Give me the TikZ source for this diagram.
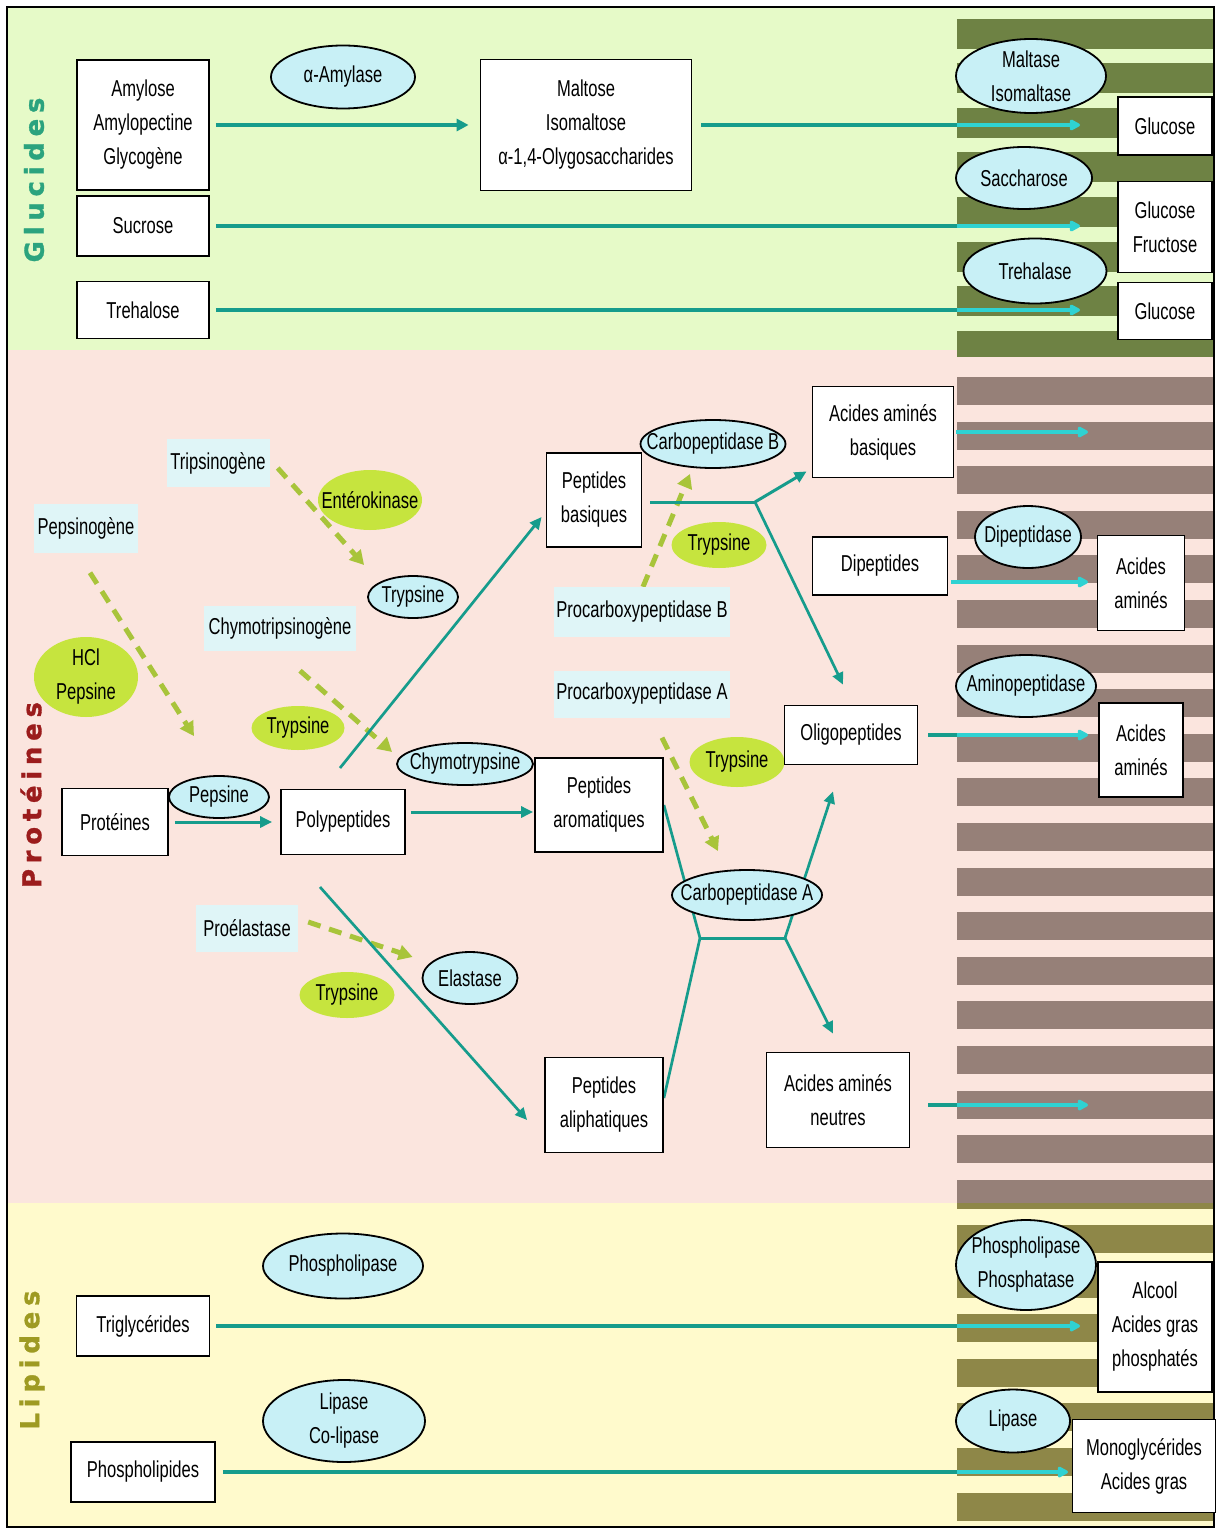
\documentclass[tikz,border=0pt]{standalone}
\usepackage{fontspec}
\setmainfont{Liberation Sans}[FakeStretch=0.72]
\newfontfamily\bandfont{DejaVu Sans}[LetterSpace=22,FakeBold=1.2]
\usetikzlibrary{arrows.meta,shapes.geometric,calc}
\definecolor{gluBg}{HTML}{E6FAC8}
\definecolor{proBg}{HTML}{FBE5DE}
\definecolor{lipBg}{HTML}{FFFACC}
\definecolor{gluStripe}{HTML}{6E8244}
\definecolor{proStripe}{HTML}{968078}
\definecolor{lipStripe}{HTML}{8E8748}
\definecolor{teal1}{HTML}{169C8C}
\definecolor{cyan1}{HTML}{2FD2D2}
\definecolor{enzBlue}{HTML}{C8F0F6}
\definecolor{enzGreen}{HTML}{C6E43E}
\definecolor{preBlue}{HTML}{DFF5F7}
\definecolor{dashGreen}{HTML}{A8C43A}
\definecolor{gluText}{HTML}{2BA37E}
\definecolor{proText}{HTML}{9B1C1C}
\definecolor{lipText}{HTML}{9E9A22}
\pgfdeclarelayer{back}\pgfdeclarelayer{mid}\pgfsetlayers{back,mid,main}
\newcommand\enz[6]{\node[#1,minimum width=#4,minimum height=#5] (#2) at (#3) {};
  \node[txt] (#2-t) at (#2.center) {#6};}
\begin{document}
\begin{tikzpicture}[x=1pt,y=-1pt,font=\fontsize{23}{34}\selectfont,
  txt/.style={inner sep=0pt,align=center},
  box/.style={draw=black,line width=1.8pt,fill=white,inner sep=2pt,align=center},
  pre/.style={fill=preBlue,inner sep=2pt,align=center},
  enzb/.style={ellipse,draw=black,line width=1.8pt,fill=enzBlue},
  enzg/.style={ellipse,fill=enzGreen},
  gline/.style={draw=teal1,line width=3.2pt},
  cline/.style={draw=cyan1,line width=4pt,-{Triangle[length=12pt,width=12pt,round]}},
  flow/.style={draw=teal1,line width=2.7pt},
  flowA/.style={flow,-{Triangle[length=12pt,width=11pt]}},
  flowG/.style={gline,-{Triangle[length=12pt,width=12pt]}},
  act/.style={draw=dashGreen,line width=5pt,dash pattern=on 13pt off 9pt,-{Triangle[length=14pt,width=15pt]}},
  bandlbl/.style={rotate=90,font=\fontsize{26}{30}\bandfont\bfseries}]
\useasboundingbox (0,0) rectangle (1221,1533);
\begin{pgfonlayer}{back}
\fill[white] (0,0) rectangle (1221,1533);
\fill[gluBg] (7,7) rectangle (1214,350);
\fill[proBg] (7,350) rectangle (1214,1203);
\fill[lipBg] (7,1203) rectangle (1214,1527);
\foreach \k in {0,...,7}
  \fill[gluStripe] (957,{19+44.5*\k}) rectangle (1213,{min(19+44.5*\k+30,357)});
\foreach \k in {0,...,18}
  \fill[proStripe] (957,{377+44.6*\k}) rectangle (1213,{min(377+44.6*\k+28,1203)});
\fill[lipStripe] (957,1203) rectangle (1213,1209);
\foreach \k in {0,...,6}
  \fill[lipStripe] (957,{1225+44.6*\k}) rectangle (1213,{1225+44.6*\k+28});
\draw[line width=1.5pt] (7,7) rectangle (1214,1527);
\end{pgfonlayer}

% band labels
\node[bandlbl,text=gluText] (lblG) at (34,180) {Glucides};
\node[bandlbl,text=proText] (lblP) at (31,795) {Protéines};
\node[bandlbl,text=lipText] (lblL) at (32,1360) {Lipides};

% ---------- Glucides ----------
\node[box,minimum width=132pt,minimum height=130pt] (amy) at (143,125) {Amylose\\Amylopectine\\Glycogène};
\enz{enzb}{amyl}{343,77}{144pt}{63pt}{α-Amylase}
\node[box,minimum width=211pt,minimum height=131pt] (malt) at (586,125) {Maltose\\Isomaltose\\α-1,4-Olygosaccharides};
\node[box,minimum width=132pt,minimum height=60pt] (sucr) at (143,226) {Sucrose};
\node[box,minimum width=132pt,minimum height=57pt] (treh) at (143,310) {Trehalose};
\enz{enzb}{maltase}{1031,76}{150pt}{74pt}{Maltase\\Isomaltase}
\node[box,minimum width=94pt,minimum height=58pt] (glc1) at (1165,126) {Glucose};
\enz{enzb}{sacch}{1024,178}{136pt}{62pt}{Saccharose}
\node[box,minimum width=94pt,minimum height=91pt] (glcfru) at (1165,227) {Glucose\\Fructose};
\enz{enzb}{trehase}{1035,271}{143pt}{65pt}{Trehalase}
\node[box,minimum width=94pt,minimum height=57pt] (glc2) at (1165,311) {Glucose};

% ---------- Protéines ----------
\node[pre,minimum width=103pt,minimum height=48pt] (trip) at (218,463) {Tripsinogène};
\enz{enzg}{entero}{370,500}{104pt}{60pt}{Entérokinase}
\node[pre,minimum width=104pt,minimum height=49pt] (pepsg) at (86,528) {Pepsinogène};
\enz{enzb}{tryp1}{413,597}{90pt}{42pt}{Trypsine}
\node[pre,minimum width=152pt,minimum height=45pt] (chymg) at (280,628) {Chymotripsinogène};
\enz{enzg}{hcl}{86,677}{104pt}{80pt}{HCl\\Pepsine}
\enz{enzg}{tryp2}{298,728}{93pt}{44pt}{Trypsine}
\enz{enzb}{chym}{465,764}{136pt}{42pt}{Chymotrypsine}
\enz{enzb}{pepsin}{219,797}{100pt}{42pt}{Pepsine}
\node[box,minimum width=106pt,minimum height=67pt] (prot) at (115,822) {Protéines};
\node[box,minimum width=124pt,minimum height=65pt] (poly) at (343,822) {Polypeptides};
\node[box,minimum width=95pt,minimum height=94pt] (pbas) at (594,500) {Peptides\\basiques};
\enz{enzb}{cpb}{713,444}{145pt}{48pt}{Carbopeptidase B}
\enz{enzg}{tryp3}{719,545}{95pt}{46pt}{Trypsine}
\node[pre,minimum width=175pt,minimum height=50pt] (procb) at (642,612) {Procarboxypeptidase B};
\node[pre,minimum width=175pt,minimum height=47pt] (proca) at (642,694) {Procarboxypeptidase A};
\enz{enzg}{tryp4}{737,762}{95pt}{50pt}{Trypsine}
\node[box,minimum width=128pt,minimum height=94pt] (parom) at (599,805) {Peptides\\aromatiques};
\node[box,minimum width=133pt,minimum height=59pt] (oligo) at (851,735) {Oligopeptides};
\enz{enzb}{cpa}{747,895}{150pt}{50pt}{Carbopeptidase A}
\node[box,minimum width=118pt,minimum height=95pt] (paliph) at (604,1105) {Peptides\\aliphatiques};
\node[box,minimum width=143pt,minimum height=95pt] (aaneu) at (838,1100) {Acides aminés\\neutres};
\node[pre,minimum width=102pt,minimum height=47pt] (proel) at (247,928) {Proélastase};
\enz{enzb}{elast}{470,978}{95pt}{52pt}{Elastase}
\enz{enzg}{tryp5}{347,995}{95pt}{46pt}{Trypsine}
\node[box,minimum width=141pt,minimum height=91pt] (aabas) at (883,432) {Acides aminés\\basiques};
\node[box,minimum width=135pt,minimum height=58pt] (dipep) at (880,566) {Dipeptides};
\enz{enzb}{dipase}{1028,537}{106pt}{62pt}{Dipeptidase}
\node[box,minimum width=87pt,minimum height=95pt] (aa1) at (1141,583) {Acides\\aminés};
\enz{enzb}{aminop}{1026,686}{140pt}{62pt}{Aminopeptidase}
\node[box,minimum width=84pt,minimum height=94pt] (aa2) at (1141,750) {Acides\\aminés};

% ---------- Lipides ----------
\enz{enzb}{phlase}{343,1266}{160pt}{65pt}{Phospholipase}
\node[box,minimum width=133pt,minimum height=60pt] (trig) at (143,1326) {Triglycérides};
\enz{enzb}{lipco}{344,1421}{162pt}{82pt}{Lipase\\Co-lipase}
\node[box,minimum width=144pt,minimum height=60pt] (phlip) at (143,1472) {Phospholipides};
\enz{enzb}{phph}{1026,1265}{140pt}{90pt}{Phospholipase\\Phosphatase}
\node[box,minimum width=114pt,minimum height=130pt] (alc) at (1155,1327) {Alcool\\Acides gras\\phosphatés};
\enz{enzb}{lip2}{1013,1421}{114pt}{63pt}{Lipase}
\node[box,minimum width=143pt,minimum height=93pt] (mono) at (1144,1466) {Monoglycérides\\Acides gras};

% ---------- connectors ----------
\begin{pgfonlayer}{mid}
% glucides
\draw[flowG,shorten <=6pt,shorten >=11pt] (amy.east) -- (malt.west);
\coordinate (g1s) at (957,125); \coordinate (g1t) at (1080,125);
\draw[gline,shorten <=9pt] (malt.east) -- (g1s);
\draw[cline] (g1s) -- (g1t);
\coordinate (g2s) at (957,226); \coordinate (g2t) at (1080,226);
\draw[gline,shorten <=6pt] (sucr.east) -- (g2s);
\draw[cline] (g2s) -- (g2t);
\coordinate (g3s) at (957,310); \coordinate (g3t) at (1080,310);
\draw[gline,shorten <=6pt] (treh.east) -- (g3s);
\draw[cline] (g3s) -- (g3t);

% protéines: activations
\draw[act] ($(trip.east)+(8,5)$) -- ($(tryp1.west)+(-3,-32)$);
\draw[act] ($(pepsg.south)+(4,20)$) -- ($(pepsin.north)+(-25,-39)$);
\draw[act] ($(chymg.south)+(20,20)$) -- ($(chym.west)+(-4,-12)$);
\draw[act] ($(proel.east)+(10,-6)$) -- ($(elast.west)+(-9,-21)$);
\draw[act] ($(procb.north)+(1,0)$) -- ($(cpb.south)+(-23,5)$);
\draw[act] ($(proca.south)+(20,20)$) -- ($(cpa.north)+(-29,-18)$);

% protéines: flows
\draw[flowA,line width=3pt,shorten <=6pt,shorten >=8pt] (prot.east) -- (poly.west);
\draw[flowA,line width=3pt,shorten <=5pt,shorten >=1pt] ($(poly.east)+(0,-10)$) -- ($(parom.west)+(0,7)$);
\coordinate (pb0) at (340,768);
\draw[flowA] (pb0) -- ($(pbas.west)+(-4,17)$);
\coordinate (pa0) at (320,887);
\draw[flowA] (pa0) -- ($(paliph.west)+(-17,15)$);
\coordinate (jb) at (755,502);
\draw[flow,line width=3pt,shorten <=8pt] ($(pbas.east)+(0,2)$) -- (jb);
\draw[flowA,line width=3pt] (jb) -- ($(aabas.south west)+(-5,-7)$);
\draw[flowA] (jb) -- ($(oligo.north)+(-8,-20)$);
\coordinate (ja) at (700,938); \coordinate (jb2) at (785,938);
\draw[flow] (parom.east) -- (ja);
\draw[flow,line width=3pt] (ja) -- (jb2);
\draw[flow] (ja) -- ($(paliph.east)+(0,-7)$);
\draw[flowA] (jb2) -- ($(oligo.south)+(-18,26)$);
\draw[flowA] (jb2) -- ($(aaneu.north)+(-5,-18)$);

% protéines: absorption
\coordinate (p1t) at (1088,432);
\draw[cline,shorten <=2pt] (aabas.east) -- (p1t);
\coordinate (p2t) at (1088,582);
\draw[cline,shorten <=3pt] ($(dipep.east)+(0,16)$) -- (p2t);
\coordinate (p3s) at (957,735); \coordinate (p3t) at (1088,735);
\draw[gline,shorten <=10pt] (oligo.east) -- (p3s);
\draw[cline] (p3s) -- (p3t);
\coordinate (p4s) at (957,1105); \coordinate (p4t) at (1088,1105);
\draw[gline,shorten <=18pt] ($(aaneu.east)+(0,5)$) -- (p4s);
\draw[cline] (p4s) -- (p4t);

% lipides
\coordinate (l1s) at (957,1326); \coordinate (l1t) at (1080,1326);
\draw[gline,shorten <=6pt] (trig.east) -- (l1s);
\draw[cline] (l1s) -- (l1t);
\coordinate (l2s) at (957,1472); \coordinate (l2t) at (1068,1472);
\draw[gline,shorten <=7pt] (phlip.east) -- (l2s);
\draw[cline] (l2s) -- (l2t);
\end{pgfonlayer}
\end{tikzpicture}
\end{document}
